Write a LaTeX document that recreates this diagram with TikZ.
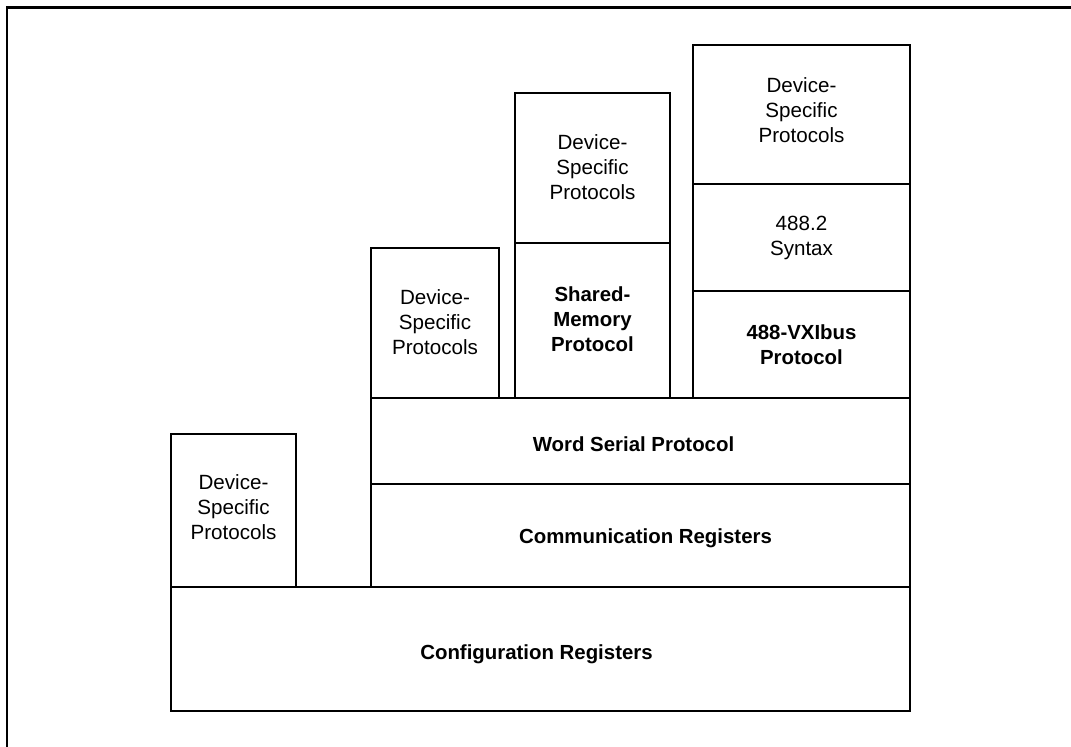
\documentclass[tikz,border=0pt]{standalone}
\usepackage{fontspec}
\setmainfont{Liberation Sans}
\begin{document}
\begin{tikzpicture}[x=0.5pt,y=-0.5pt,
  thinbox/.style={draw, line width=0.55pt, inner sep=0pt, outer sep=0pt, anchor=north west},
  thickbox/.style={draw, line width=1.15pt, inner sep=0pt, outer sep=0pt, anchor=north west},
  lbl/.style={inner sep=0pt, align=center, font=\fontsize{10.3}{12.5}\selectfont},
  blbl/.style={inner sep=0pt, align=center, font=\fontsize{10.2}{12.5}\selectfont\bfseries},
  frameline/.style={line width=1.35pt}]
\useasboundingbox (0,0) rectangle (1071,746);
\clip (0,0) rectangle (1071,746);
\coordinate (fa) at (7,800);
\coordinate (fb) at (7,7.5);
\coordinate (fc) at (1100,7.5);
\draw[frameline] (fa) -- (fb) -- (fc);
% thin boxes
\node[thinbox, minimum width=62.5pt, minimum height=76.5pt] (dsp1) at (171,434) {};
\node[thinbox, minimum width=64pt, minimum height=75pt] (dsp2) at (371,248) {};
\node[thinbox, minimum width=77.5pt, minimum height=75pt] (dsp3) at (515,93) {};
\node[thinbox, minimum width=77.5pt, minimum height=77.5pt] (shm) at (515,243) {};
\node[thinbox, minimum width=108.5pt, minimum height=69.5pt] (dsp4) at (693,45) {};
\node[thinbox, minimum width=108.5pt, minimum height=53.5pt] (syn) at (693,184) {};
\node[thinbox, minimum width=108.5pt, minimum height=53.5pt] (vxi) at (693,291) {};
% thick boxes
\node[thickbox, minimum width=269.5pt, minimum height=43pt] (wsp) at (371,398) {};
\node[thickbox, minimum width=269.5pt, minimum height=51.5pt] (comm) at (371,484) {};
\node[thickbox, minimum width=369.5pt, minimum height=62pt] (cfg) at (171,587) {};
% labels
\node[lbl] (t1) at ([yshift=1.5pt]dsp1.center) {Device-\\Specific\\Protocols};
\node[lbl] (t2) at ([yshift=0.5pt]dsp2.center) {Device-\\Specific\\Protocols};
\node[lbl] (t3) at ([yshift=0.5pt]dsp3.center) {Device-\\Specific\\Protocols};
\node[blbl] (t4) at ([yshift=0.5pt]shm.center) {Shared-\\Memory\\Protocol};
\node[lbl] (t5) at ([yshift=2pt]dsp4.center) {Device-\\Specific\\Protocols};
\node[lbl] (t6) at (syn.center) {488.2\\Syntax};
\node[blbl] (t7) at (vxi.center) {488-VXIbus\\Protocol};
\node[blbl] (t8) at ([xshift=-3.5pt,yshift=-1.5pt]wsp.center) {Word Serial Protocol};
\node[blbl] (t9) at ([xshift=2.5pt,yshift=-1.5pt]comm.center) {Communication Registers};
\node[blbl] (t10) at ([xshift=-2pt,yshift=-2.5pt]cfg.center) {Configuration Registers};
\end{tikzpicture}
\end{document}
